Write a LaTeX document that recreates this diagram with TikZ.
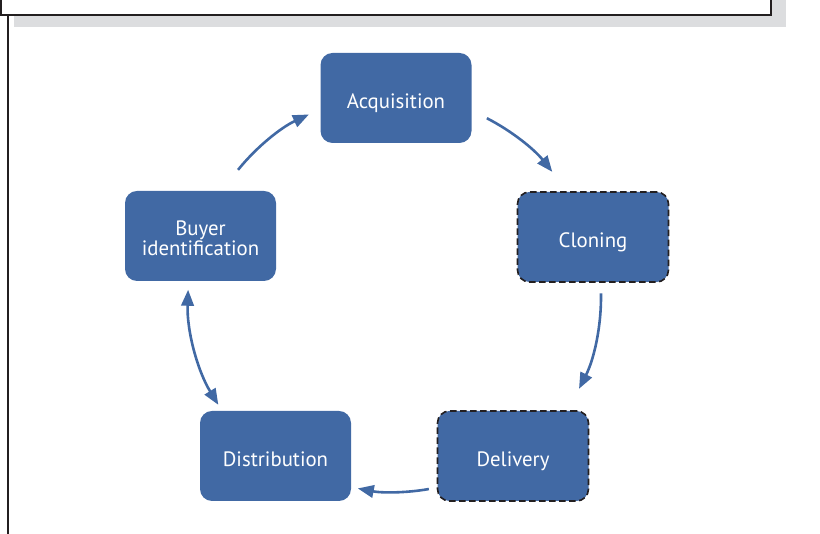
\documentclass[tikz,border=0pt]{standalone}
\usepackage{fontspec}
\setmainfont{PT Sans}
\usetikzlibrary{arrows.meta}
\definecolor{boxblue}{RGB}{65,105,164}
\definecolor{shadowgray}{RGB}{220,221,223}
\definecolor{framedark}{RGB}{35,31,32}
\tikzset{
  stagebox/.style={rectangle, rounded corners=12pt, fill=boxblue, minimum width=151pt, minimum height=90pt, inner sep=0pt, text=white, font=\fontsize{20.8}{19}\selectfont, align=center},
  dashbox/.style={stagebox, draw=framedark, line width=1.6pt, dash pattern=on 6.5pt off 3.5pt},
  tipA/.tip={Triangle[length=16pt,width=12.5pt]},
  cyc/.style={draw=boxblue, line width=2.6pt, -tipA},
  cycboth/.style={draw=boxblue, line width=2.6pt, tipA-tipA}
}
\newcommand{\lowtext}[1]{\raisebox{-11pt}[0pt][0pt]{#1}}
\begin{document}
\begin{tikzpicture}[x=1pt,y=1pt]
\useasboundingbox (0,0) rectangle (820,534);
% top frame
\fill[shadowgray] (14,507) rectangle (786,540);
\draw[framedark, line width=1.8pt, fill=white] (1,519) rectangle (771,545);
\draw[framedark, line width=1.8pt] (8,519) -- (8,-2);
% nodes
\node[stagebox] (acq) at (396,436) {\lowtext{Acquisition}};
\node[dashbox] (clo) at (593,297) {\lowtext{Cloning}};
\node[dashbox] (del) at (513,78) {\lowtext{Delivery}};
\node[stagebox] (dis) at (275.5,78) {\lowtext{Distribution}};
\node[stagebox] (buy) at (200.5,298) {\raisebox{-20pt}[0pt][0pt]{\begin{tabular}[b]{@{}c@{}}Buyer\\identification\end{tabular}}};
\coordinate (ctr) at (395,237);
% connectors
\draw[cyc] (ctr) ++(62.8:201) arc[start angle=62.8, end angle=38.5, radius=201];
\draw[cyc] (ctr) ++(1:206) arc[start angle=1, end angle=-26.9, radius=203];
\draw[cyc] (ctr) ++(-80:195) arc[start angle=-80, end angle=-101, radius=195];
\draw[cycboth] (ctr) ++(-148.6:207) arc[start angle=-148.6, end angle=-182, radius=207];
\draw[cyc] (ctr) ++(141:202) arc[start angle=141, end angle=115, radius=200];
\end{tikzpicture}
\end{document}
